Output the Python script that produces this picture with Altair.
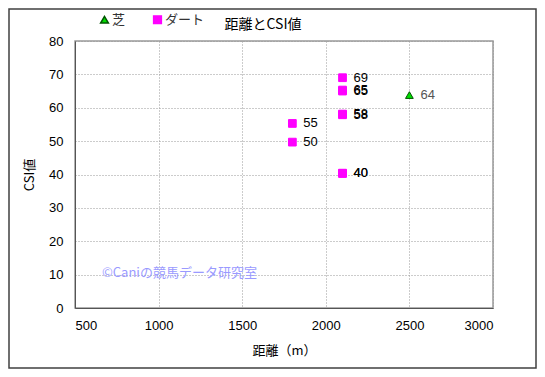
import altair as alt
import pandas as pd

types = ["ダート", "ダート", "ダート", "ダート", "ダート", "ダート", "ダート", "ダート", "ダート", "芝"]
distance = [1800, 1800, 2100, 2100, 2100, 2100, 2100, 2100, 2100, 2500]
csi = [55.3, 49.7, 69.0, 65.3, 65.0, 58.1, 57.9, 40.4, 40.3, 63.8]
labels = ["55", "50", "69", "65", "65", "58", "58", "40", "40", "64"]
label_colors = ["#000000"] * 9 + ["#555555"]

x_ticks = [500, 1000, 1500, 2000, 2500, 3000]
y_ticks = [0, 10, 20, 30, 40, 50, 60, 70, 80]

df = pd.DataFrame({"type": types, "distance": distance, "csi": csi,
                   "label": labels, "lc": label_colors})

W, H = 418, 267
PL, PT, PR, PB = 67, 33, 44, 61

JP = "Noto Sans CJK JP"
LAT = "Liberation Sans"

xs = alt.X("distance:Q", title="距離（m）",
           scale=alt.Scale(domain=[500, 3000], nice=False, zero=False),
           axis=alt.Axis(values=x_ticks, tickSize=0, labelPadding=11,
                         labelFont=LAT, labelFontSize=13, labelColor="#000",
                         titleFont=JP, titleFontSize=13, titleFontWeight="normal",
                         titlePadding=12, titleColor="#000",
                         domainColor="#555", gridColor="#999", gridDash=[1, 2],
                         format="d"))
ys = alt.Y("csi:Q", title="CSI値",
           scale=alt.Scale(domain=[0, 80], nice=False),
           axis=alt.Axis(values=y_ticks, tickSize=0, labelPadding=12,
                         labelFont=LAT, labelFontSize=13, labelColor="#000",
                         titleFont=JP, titleFontSize=13, titleFontWeight="normal",
                         titlePadding=12, titleColor="#000",
                         domainColor="#555", gridColor="#999", gridDash=[1, 2]))

dom = ["芝", "ダート"]
leg = alt.Legend(title=None, orient="none", legendX=23, legendY=-28,
                 direction="horizontal", columns=2, columnPadding=24,
                 labelFont=JP, labelFontSize=13, labelColor="#333",
                 symbolSize=60, labelOffset=1)
pts = alt.Chart(df).mark_point(filled=True, size=60, strokeWidth=1, opacity=1).encode(
    x=xs, y=ys,
    shape=alt.Shape("type:N", scale=alt.Scale(domain=dom, range=["triangle-up", "square"]), legend=leg),
    color=alt.Color("type:N", scale=alt.Scale(domain=dom, range=["#00dd00", "#ff00ff"]), legend=leg),
    stroke=alt.Stroke("type:N", scale=alt.Scale(domain=dom, range=["#005500", "#ff00ff"]), legend=leg),
)

txt = alt.Chart(df).mark_text(align="left", dx=11, dy=0, font=LAT, fontSize=13).encode(
    x=xs, y=ys, text="label:N", color=alt.Color("lc:N", scale=None)
)

wm = alt.Chart(pd.DataFrame({"t": ["©Caniの競馬データ研究室"]})).mark_text(
    align="left", font=JP, fontSize=13, color="#9a9aff", baseline="middle"
).encode(x=alt.value(27), y=alt.value(232), text="t:N")

title = alt.Chart(pd.DataFrame({"t": ["距離とCSI値"]})).mark_text(
    align="center", font=JP, fontSize=14, color="#000", baseline="middle"
).encode(x=alt.value(188), y=alt.value(-16), text="t:N")

frame = alt.Chart(pd.DataFrame({"a": [0]})).mark_rect(
    fill=None, stroke="#404040", strokeWidth=1.5
).encode(x=alt.value(-PL + 1), y=alt.value(-PT + 1),
         x2=alt.value(W + PR - 1), y2=alt.value(H + PB - 1))

chart = alt.layer(frame, pts, txt, wm, title).properties(
    width=W, height=H,
    autosize=alt.AutoSizeParams(type="none"),
    padding={"left": PL, "top": PT, "right": PR, "bottom": PB},
    background="white",
).configure_view(stroke="#999999", strokeWidth=1.5)

chart.save("out.html", embed_options={"renderer": "svg", "actions": False})
